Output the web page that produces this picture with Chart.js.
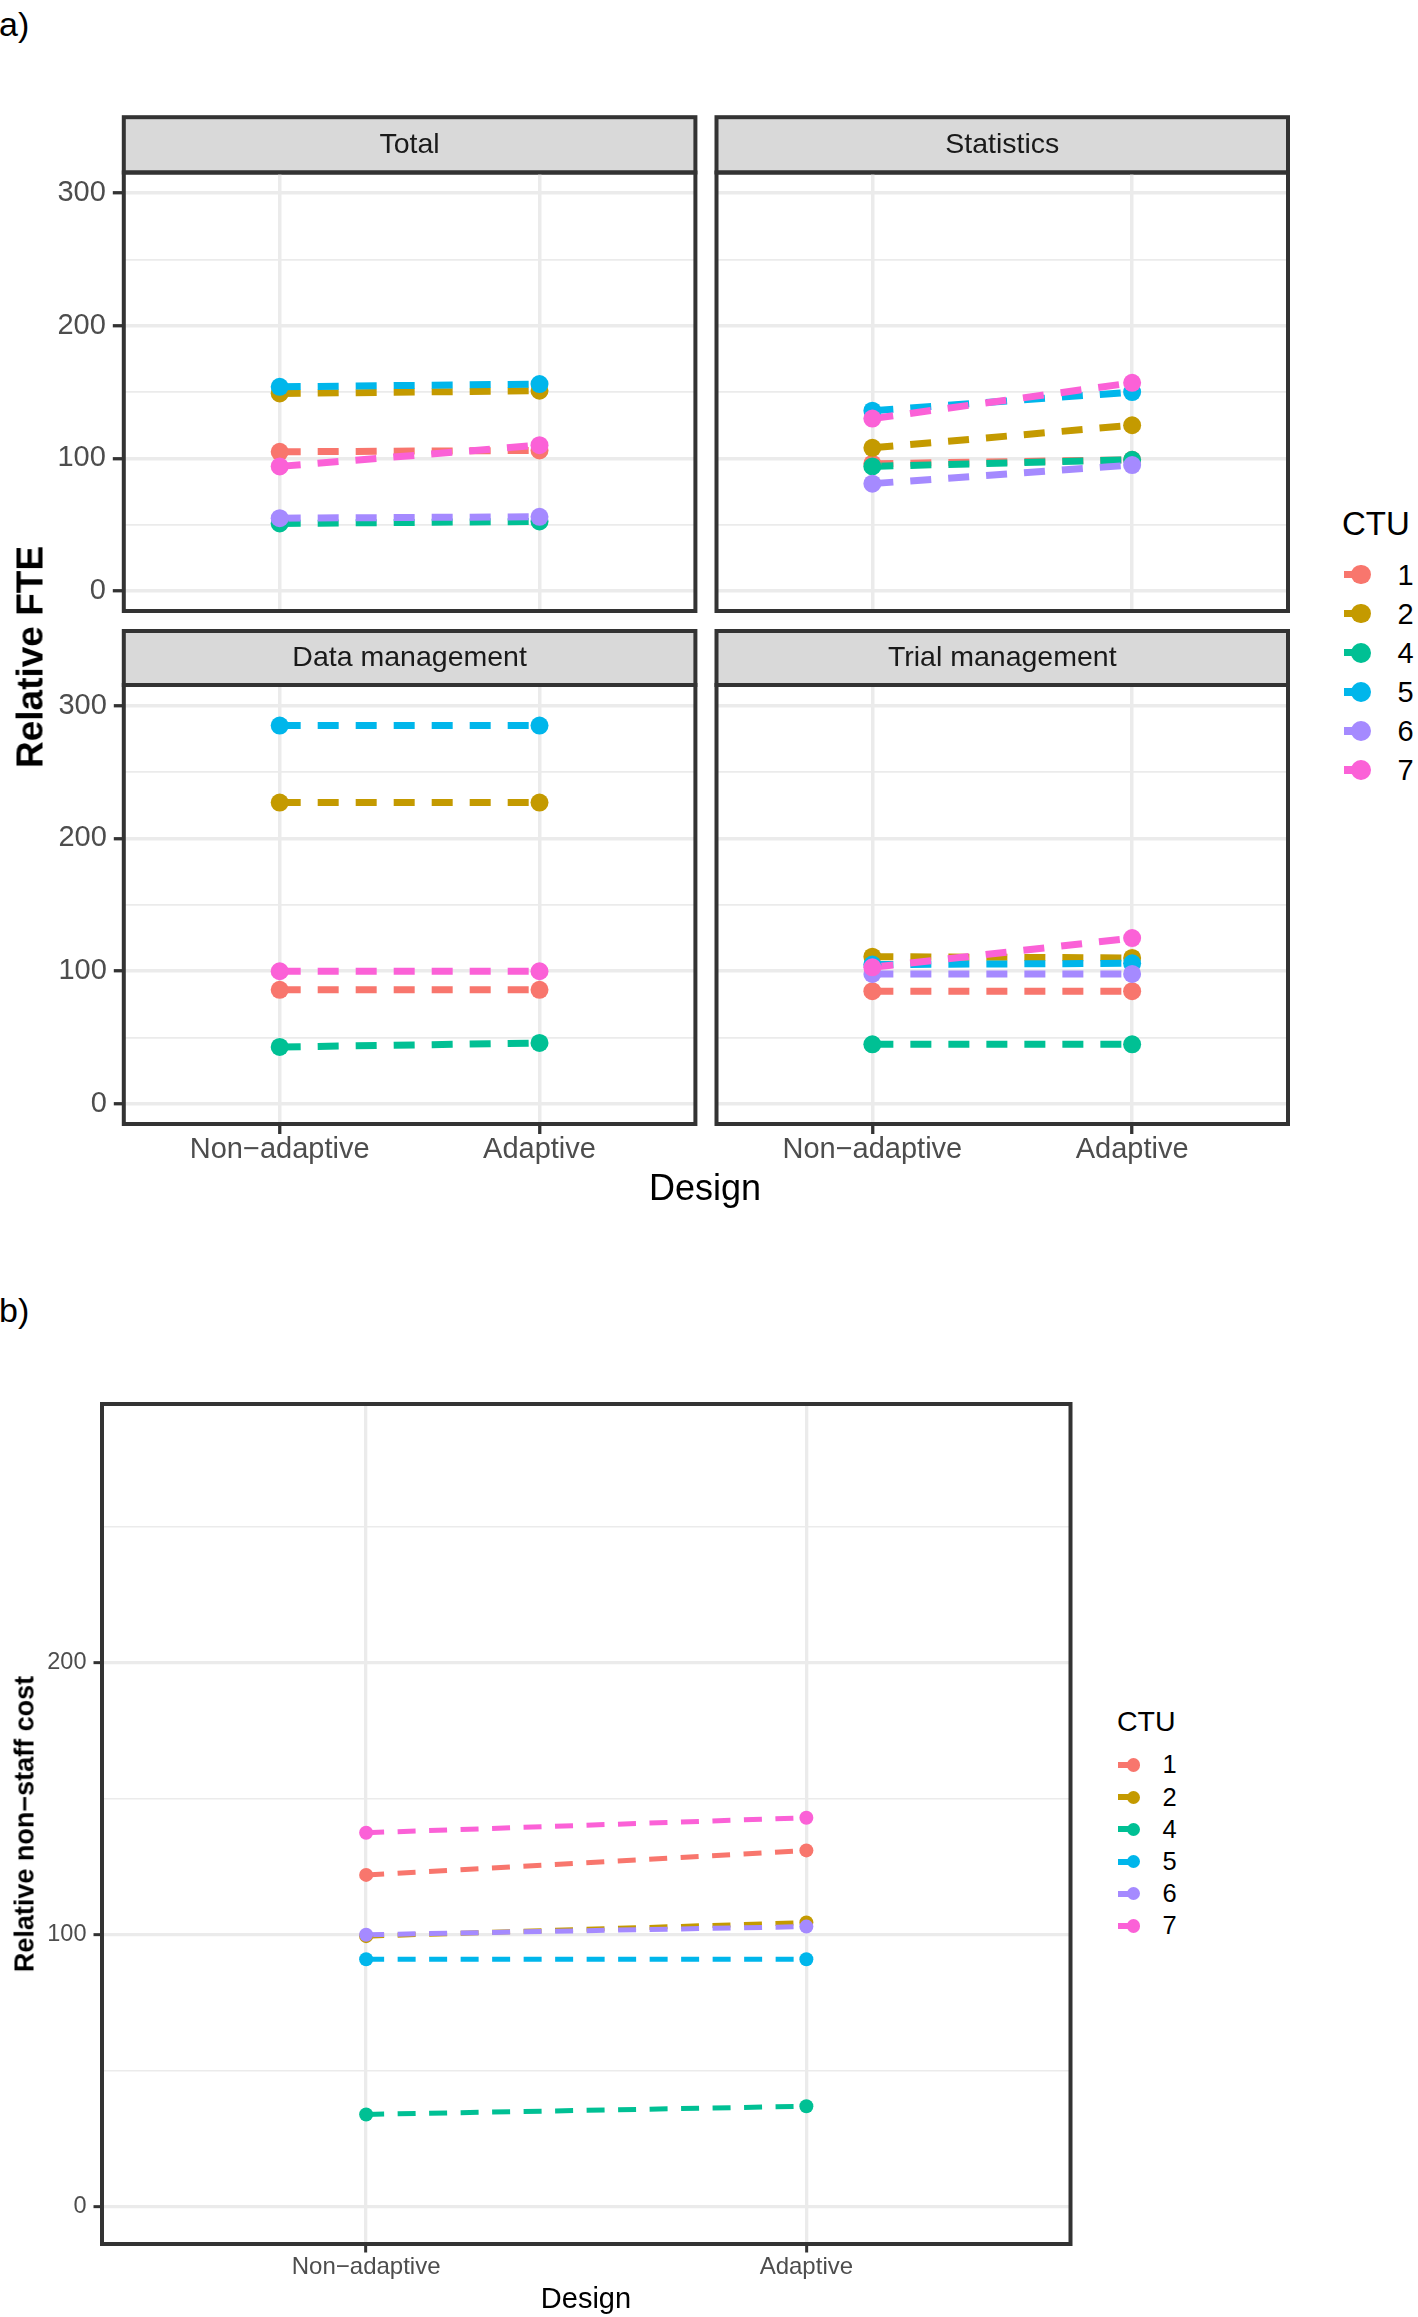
<!DOCTYPE html>
<html>
<head>
<meta charset="utf-8">
<script src="https://cdn.jsdelivr.net/npm/chart.js@4.4.1/dist/chart.umd.min.js"></script>
<style>
  html, body { margin: 0; padding: 0; background: #ffffff; }
  #page { position: relative; width: 1418px; height: 2317px; overflow: hidden; background: #fff;
          font-family: 'Liberation Sans', Arial, Helvetica, sans-serif; }
  #page canvas { position: absolute; }
  .t { position: absolute; white-space: nowrap; line-height: 1; color: #000; }
  .k { position: absolute; }
</style>
</head>
<body>
<div id="page"></div>
<script>
// ---------------- data ----------------
const designs = ['Non\u2212adaptive', 'Adaptive'];
const ctus = ['1', '2', '4', '5', '6', '7'];
const ctuColors = ['#F8766D', '#C49A00', '#00C094', '#00B6EB', '#A58AFF', '#FB61D7'];
// each row: [Non-adaptive, Adaptive], rows in ctus order
const totalFTE      = [[105, 106], [149, 151], [51, 52.5], [154, 156], [55, 56], [94, 110]];
const statisticsFTE = [[96, 99], [108, 125], [94, 99], [136, 150], [81, 95], [130, 157]];
const dataMgmtFTE   = [[86, 86], [227, 227], [43, 46], [285, 285], [null, null], [100, 100]];
const trialMgmtFTE  = [[85, 85], [111, 110], [45, 45], [105, 106], [98, 98], [103, 125]];
const nonStaffCost  = [[122, 131], [99.5, 104.5], [34, 37], [91, 91], [100, 103], [137.5, 143]];
const fteTicks  = [0, 50, 100, 150, 200, 250, 300];
const costTicks = [0, 50, 100, 150, 200, 250];

const FONT = "'Liberation Sans', Arial, Helvetica, sans-serif";
const page = document.getElementById('page');

// ---------------- text helpers ----------------
function addText(txt, x, y, size, opts = {}) {
  const d = document.createElement('div');
  d.className = 't';
  d.textContent = txt;
  d.style.fontSize = size + 'px';
  d.style.left = x + 'px';
  d.style.top = y + 'px';
  if (opts.weight) d.style.fontWeight = opts.weight;
  if (opts.color) d.style.color = opts.color;
  let tr = opts.anchor === 'left' ? 'translate(0,-50%)' : 'translate(-50%,-50%)';
  if (opts.rotate) tr += ' rotate(-90deg)';
  d.style.transform = tr;
  page.appendChild(d);
}
function addBox(x, y, w, h, color, round) {
  const d = document.createElement('div');
  d.className = 'k';
  d.style.left = x + 'px'; d.style.top = y + 'px';
  d.style.width = w + 'px'; d.style.height = h + 'px';
  d.style.background = color;
  if (round) d.style.borderRadius = '50%';
  page.appendChild(d);
}

// ---------------- panel plugin (strip + border) ----------------
const panelPlugin = {
  id: 'panel',
  beforeDraw(chart, args, o) {
    if (!o.strip) return;
    const { ctx, chartArea: a } = chart;
    ctx.save();
    ctx.fillStyle = '#d9d9d9';
    ctx.fillRect(a.left, o.stripTop, a.right - a.left, a.top - o.stripTop);
    ctx.strokeStyle = '#333333';
    ctx.lineWidth = 4;
    ctx.strokeRect(a.left, o.stripTop, a.right - a.left, a.top - o.stripTop);
    ctx.fillStyle = '#1a1a1a';
    ctx.font = '28.5px ' + FONT;
    ctx.textAlign = 'center';
    ctx.textBaseline = 'middle';
    ctx.fillText(o.strip, (a.left + a.right) / 2, (o.stripTop + a.top) / 2 + 0.5);
    ctx.restore();
  },
  afterDraw(chart) {
    const { ctx, chartArea: a } = chart;
    ctx.save();
    ctx.strokeStyle = '#333333';
    ctx.lineWidth = 4;
    ctx.strokeRect(a.left, a.top, a.right - a.left, a.bottom - a.top);
    ctx.restore();
  }
};

// ---------------- panel factory ----------------
function makePanel(p) {
  const { box, area, values, st } = p;
  const cv = document.createElement('canvas');
  cv.width = box.w; cv.height = box.h;
  cv.style.left = box.x + 'px'; cv.style.top = box.y + 'px';
  cv.style.width = box.w + 'px'; cv.style.height = box.h + 'px';
  page.appendChild(cv);
  const yw = p.showY ? 80 : 0;
  const xh = p.showX ? 50 : 20;
  const datasets = [];
  values.forEach((v, i) => {
    const pts = v.map((y, j) => ({ x: j + 1, y: y }));
    datasets.push({
      label: ctus[i], data: pts, borderColor: ctuColors[i], backgroundColor: ctuColors[i],
      borderWidth: st.lw, borderDash: st.dash, borderCapStyle: 'butt', borderJoinStyle: 'miter',
      pointRadius: 0, fill: false, tension: 0, order: 20 - i
    });
    datasets.push({
      label: ctus[i], data: pts, showLine: false, borderColor: ctuColors[i], backgroundColor: ctuColors[i],
      pointRadius: st.r, pointBackgroundColor: ctuColors[i], pointBorderColor: ctuColors[i],
      pointBorderWidth: 0, order: 10 - i
    });
  });
  const major = v => v % 100 === 0;
  return new Chart(cv, {
    type: 'line',
    data: { datasets },
    plugins: [panelPlugin],
    options: {
      responsive: false, animation: false, devicePixelRatio: 1, events: [],
      layout: {
        autoPadding: false,
        padding: {
          left: area.l - box.x - yw,
          right: box.x + box.w - area.r,
          top: area.t - box.y,
          bottom: box.y + box.h - area.b - xh
        }
      },
      plugins: {
        legend: { display: false }, tooltip: { enabled: false }, title: { display: false },
        panel: { strip: p.strip || null, stripTop: (p.stripTop || 0) - box.y }
      },
      scales: {
        x: {
          type: 'linear', min: 0.4, max: 2.6,
          afterBuildTicks: s => { s.ticks = designs.map((d, j) => ({ value: j + 1 })); },
          afterFit: s => { s.height = xh; },
          border: { display: false },
          grid: { color: '#ebebeb', lineWidth: st.major, drawTicks: p.showX, tickLength: st.tl,
                  tickColor: '#333333', tickWidth: st.tw },
          ticks: { display: p.showX, autoSkip: false, maxRotation: 0, minRotation: 0,
                   callback: v => designs[Math.round(v) - 1] || '',
                   font: { family: FONT, size: st.xfs, lineHeight: 1 }, color: '#4d4d4d', padding: st.xpad }
        },
        y: {
          type: 'linear', min: p.yMin, max: p.yMax,
          afterBuildTicks: s => { s.ticks = p.yTicks.map(v => ({ value: v })); },
          afterFit: s => { s.width = yw; },
          border: { display: false },
          grid: {
            color: '#ebebeb',
            lineWidth: c => (c.tick && major(c.tick.value)) ? st.major : st.minor,
            drawTicks: p.showY, tickLength: st.tl,
            tickColor: c => (c.tick && major(c.tick.value)) ? '#333333' : 'rgba(0,0,0,0)',
            tickWidth: st.tw
          },
          ticks: { display: p.showY, autoSkip: false,
                   callback: v => major(v) ? String(v) : '',
                   font: { family: FONT, size: st.yfs, lineHeight: 1 }, color: '#4d4d4d', padding: st.ypad }
        }
      }
    }
  });
}

// ---------------- styles ----------------
const styleA = { lw: 7, dash: [21, 17], r: 9, major: 3.5, minor: 1.8, tl: 11, tw: 3.3, xfs: 29, yfs: 29, xpad: 1, ypad: 7 };
const styleAx = Object.assign({}, styleA, { tl: 10 });
const styleB = { lw: 5, dash: [18, 13.5], r: 7, major: 3.3, minor: 1.6, tl: 8.5, tw: 3, xfs: 24, yfs: 23.5, xpad: 3, ypad: 7 };

const colL = { l: 123.8, r: 695.4 };
const colR = { l: 716.5, r: 1288 };
const rowT = { t: 172.5, b: 611, strip: 117.2 };
const rowB = { t: 685, b: 1124, strip: 631 };

makePanel({ box: { x: 0, y: 100, w: 705, h: 545 }, area: { l: colL.l, r: colL.r, t: rowT.t, b: rowT.b },
  strip: 'Total', stripTop: rowT.strip, values: totalFTE, yMin: -15, yMax: 315.5, yTicks: fteTicks,
  showY: true, showX: false, st: styleA });
makePanel({ box: { x: 705, y: 100, w: 595, h: 545 }, area: { l: colR.l, r: colR.r, t: rowT.t, b: rowT.b },
  strip: 'Statistics', stripTop: rowT.strip, values: statisticsFTE, yMin: -15, yMax: 315.5, yTicks: fteTicks,
  showY: false, showX: false, st: styleA });
makePanel({ box: { x: 0, y: 625, w: 705, h: 560 }, area: { l: colL.l, r: colL.r, t: rowB.t, b: rowB.b },
  strip: 'Data management', stripTop: rowB.strip, values: dataMgmtFTE, yMin: -15, yMax: 315.5, yTicks: fteTicks,
  showY: true, showX: true, st: styleAx });
makePanel({ box: { x: 705, y: 625, w: 595, h: 560 }, area: { l: colR.l, r: colR.r, t: rowB.t, b: rowB.b },
  strip: 'Trial management', stripTop: rowB.strip, values: trialMgmtFTE, yMin: -15, yMax: 315.5, yTicks: fteTicks,
  showY: false, showX: true, st: styleAx });
makePanel({ box: { x: 0, y: 1380, w: 1100, h: 937 }, area: { l: 102, r: 1070.5, t: 1404, b: 2244 },
  values: nonStaffCost, yMin: -13.6, yMax: 295, yTicks: costTicks,
  showY: true, showX: true, st: styleB });

// ---------------- titles ----------------
addText('a)', -1, 24, 34, { anchor: 'left' });
addText('b)', -1, 1310, 34, { anchor: 'left' });
addText('Relative FTE', 30, 656.5, 37, { rotate: true, weight: 'bold' });
addText('Design', 705, 1188.4, 36);
addText('Relative non\u2212staff cost', 24.5, 1824, 27, { rotate: true, weight: 'bold' });
addText('Design', 586, 2298.3, 29);

// ---------------- legends ----------------
function legend(cfg) {
  addText('CTU', cfg.titleX, cfg.titleY, cfg.titleSize, { anchor: 'left' });
  ctus.forEach((c, i) => {
    const y = cfg.y0 + i * cfg.step;
    addBox(cfg.lineX, y - cfg.lw / 2, cfg.lineW, cfg.lw, ctuColors[i], false);
    addBox(cfg.cx - cfg.r, y - cfg.r, cfg.r * 2, cfg.r * 2, ctuColors[i], true);
    addText(c, cfg.labelX, y + 0.3, cfg.labelSize, { anchor: 'left' });
  });
}
legend({ titleX: 1342, titleY: 523, titleSize: 33, y0: 574.5, step: 39.1,
         lineX: 1343.5, lineW: 18, lw: 7.5, cx: 1361, r: 9.9, labelX: 1397.5, labelSize: 29 });
legend({ titleX: 1117, titleY: 1721, titleSize: 28.5, y0: 1765, step: 32.2,
         lineX: 1118.3, lineW: 15, lw: 6, cx: 1133.3, r: 6.7, labelX: 1162.5, labelSize: 25.5 });
</script>
</body>
</html>
